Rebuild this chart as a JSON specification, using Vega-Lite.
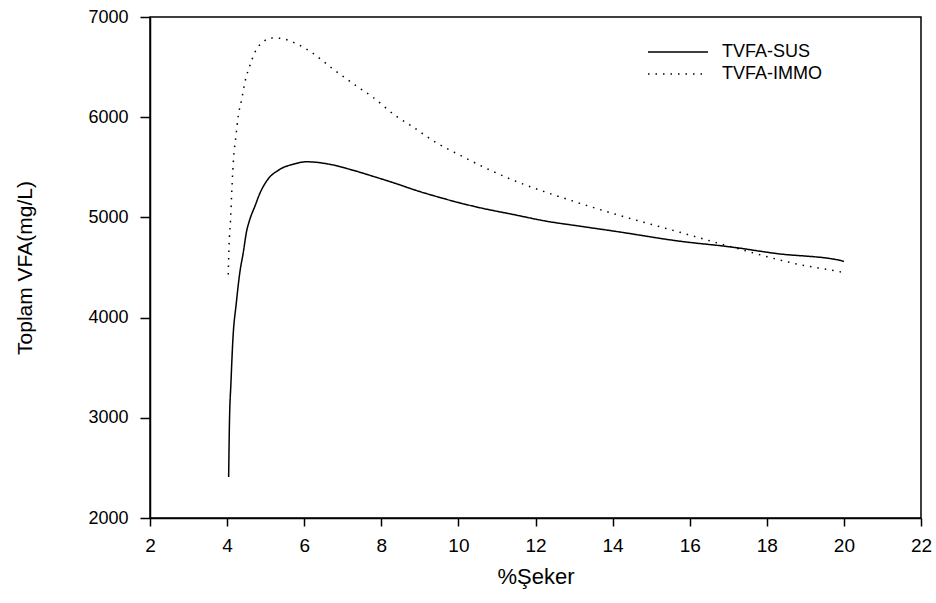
{
  "$schema": "https://vega.github.io/schema/vega-lite/v6.json",
  "autosize": {"type": "none"},
  "width": 771,
  "height": 501,
  "padding": {"left": 150, "top": 17, "right": 15, "bottom": 85},
  "background": "white",
  "config": {
    "font": "Liberation Sans",
    "view": {"stroke": "#000000", "strokeWidth": 1.5},
    "axis": {"grid": false, "domainColor": "#000000", "tickColor": "#000000", "labelColor": "#000000", "titleColor": "#000000", "domainWidth": 1.5, "tickWidth": 1.5}
  },
  "data": {"values": [
    {"x": 4.04, "v": 2410, "s": "TVFA-SUS"},
    {"x": 4.06, "v": 2930, "s": "TVFA-SUS"},
    {"x": 4.10, "v": 3350, "s": "TVFA-SUS"},
    {"x": 4.15, "v": 3780, "s": "TVFA-SUS"},
    {"x": 4.24, "v": 4150, "s": "TVFA-SUS"},
    {"x": 4.33, "v": 4450, "s": "TVFA-SUS"},
    {"x": 4.42, "v": 4650, "s": "TVFA-SUS"},
    {"x": 4.50, "v": 4850, "s": "TVFA-SUS"},
    {"x": 4.59, "v": 4980, "s": "TVFA-SUS"},
    {"x": 4.72, "v": 5110, "s": "TVFA-SUS"},
    {"x": 4.85, "v": 5240, "s": "TVFA-SUS"},
    {"x": 5.02, "v": 5360, "s": "TVFA-SUS"},
    {"x": 5.37, "v": 5480, "s": "TVFA-SUS"},
    {"x": 5.71, "v": 5530, "s": "TVFA-SUS"},
    {"x": 6.06, "v": 5555, "s": "TVFA-SUS"},
    {"x": 6.66, "v": 5530, "s": "TVFA-SUS"},
    {"x": 7.18, "v": 5480, "s": "TVFA-SUS"},
    {"x": 7.87, "v": 5400, "s": "TVFA-SUS"},
    {"x": 8.48, "v": 5325, "s": "TVFA-SUS"},
    {"x": 8.82, "v": 5280, "s": "TVFA-SUS"},
    {"x": 9.60, "v": 5190, "s": "TVFA-SUS"},
    {"x": 10.55, "v": 5097, "s": "TVFA-SUS"},
    {"x": 11.41, "v": 5030, "s": "TVFA-SUS"},
    {"x": 12.27, "v": 4963, "s": "TVFA-SUS"},
    {"x": 13.14, "v": 4913, "s": "TVFA-SUS"},
    {"x": 14.09, "v": 4860, "s": "TVFA-SUS"},
    {"x": 15.73, "v": 4763, "s": "TVFA-SUS"},
    {"x": 17.11, "v": 4703, "s": "TVFA-SUS"},
    {"x": 18.24, "v": 4640, "s": "TVFA-SUS"},
    {"x": 19.92, "v": 4570, "s": "TVFA-SUS"},
    {"x": 20.0, "v": 4560, "s": "TVFA-SUS"},
    {"x": 4.03, "v": 4430, "s": "TVFA-IMMO"},
    {"x": 4.05, "v": 4713, "s": "TVFA-IMMO"},
    {"x": 4.09, "v": 4980, "s": "TVFA-IMMO"},
    {"x": 4.12, "v": 5247, "s": "TVFA-IMMO"},
    {"x": 4.16, "v": 5547, "s": "TVFA-IMMO"},
    {"x": 4.23, "v": 5813, "s": "TVFA-IMMO"},
    {"x": 4.29, "v": 6013, "s": "TVFA-IMMO"},
    {"x": 4.38, "v": 6180, "s": "TVFA-IMMO"},
    {"x": 4.46, "v": 6347, "s": "TVFA-IMMO"},
    {"x": 4.59, "v": 6513, "s": "TVFA-IMMO"},
    {"x": 4.72, "v": 6647, "s": "TVFA-IMMO"},
    {"x": 4.94, "v": 6753, "s": "TVFA-IMMO"},
    {"x": 5.13, "v": 6790, "s": "TVFA-IMMO"},
    {"x": 5.37, "v": 6787, "s": "TVFA-IMMO"},
    {"x": 5.76, "v": 6740, "s": "TVFA-IMMO"},
    {"x": 6.19, "v": 6647, "s": "TVFA-IMMO"},
    {"x": 6.75, "v": 6480, "s": "TVFA-IMMO"},
    {"x": 7.35, "v": 6313, "s": "TVFA-IMMO"},
    {"x": 7.79, "v": 6197, "s": "TVFA-IMMO"},
    {"x": 8.35, "v": 6020, "s": "TVFA-IMMO"},
    {"x": 8.78, "v": 5913, "s": "TVFA-IMMO"},
    {"x": 9.38, "v": 5757, "s": "TVFA-IMMO"},
    {"x": 10.03, "v": 5623, "s": "TVFA-IMMO"},
    {"x": 10.63, "v": 5507, "s": "TVFA-IMMO"},
    {"x": 11.41, "v": 5373, "s": "TVFA-IMMO"},
    {"x": 12.23, "v": 5257, "s": "TVFA-IMMO"},
    {"x": 13.05, "v": 5153, "s": "TVFA-IMMO"},
    {"x": 14.09, "v": 5030, "s": "TVFA-IMMO"},
    {"x": 15.73, "v": 4853, "s": "TVFA-IMMO"},
    {"x": 17.11, "v": 4703, "s": "TVFA-IMMO"},
    {"x": 18.84, "v": 4530, "s": "TVFA-IMMO"},
    {"x": 19.83, "v": 4463, "s": "TVFA-IMMO"},
    {"x": 20.0, "v": 4450, "s": "TVFA-IMMO"}
  ]},
  "mark": {"type": "line", "interpolate": "monotone", "color": "#000000", "strokeWidth": 1.5},
  "encoding": {
    "x": {
      "field": "x", "type": "quantitative",
      "scale": {"domain": [2, 22], "nice": false, "zero": false},
      "axis": {"values": [2, 4, 6, 8, 10, 12, 14, 16, 18, 20, 22], "title": "%Şeker", "labelFontSize": 19, "titleFontSize": 22, "titleFontWeight": "normal", "tickSize": 8, "labelPadding": 10, "titlePadding": 11, "labelFlush": false}
    },
    "y": {
      "field": "v", "type": "quantitative",
      "scale": {"domain": [2000, 7000], "nice": false, "zero": false},
      "axis": {"values": [2000, 3000, 4000, 5000, 6000, 7000], "format": "d", "title": "Toplam VFA(mg/L)", "labelFontSize": 18, "titleFontSize": 21, "titleFontWeight": "normal", "tickSize": 10, "labelPadding": 12, "titlePadding": 52, "labelFlush": false}
    },
    "strokeDash": {
      "field": "s", "type": "nominal",
      "scale": {"domain": ["TVFA-SUS", "TVFA-IMMO"], "range": [[1, 0], [1.5, 6]]},
      "legend": {"title": null, "orient": "none", "legendX": 497, "legendY": 25, "labelFontSize": 18, "symbolType": "stroke", "symbolSize": 3600, "symbolStrokeColor": "#000000", "symbolStrokeWidth": 1.5, "labelOffset": 13, "clipHeight": 20, "rowPadding": 2, "labelColor": "#000000"}
    }
  }
}
